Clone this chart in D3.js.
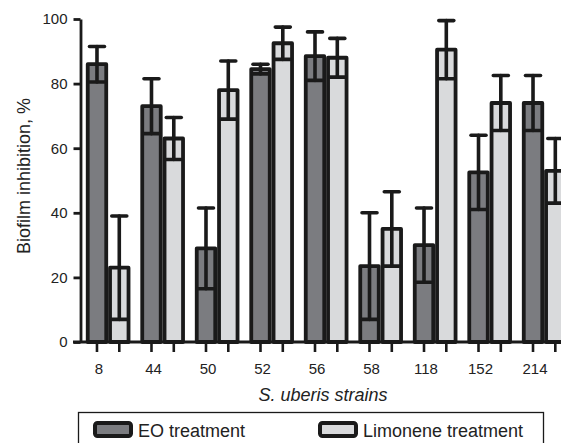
<!DOCTYPE html>
<html>
<head>
<meta charset="utf-8">
<script src="https://cdn.jsdelivr.net/npm/d3@7"></script>
<style>
  html, body { margin: 0; padding: 0; background: #fff; }
  svg { display: block; font-family: "Liberation Sans", Arial, Helvetica, sans-serif; }
</style>
</head>
<body>
<svg id="chart" width="561" height="443"></svg>
<script>
// ---- data ----
const strains = ["8", "44", "50", "52", "56", "58", "118", "152", "214"];
const seriesNames = ["EO treatment", "Limonene treatment"];
const eoValues = [86, 73, 29, 84.5, 88.5, 23.5, 30, 52.5, 74];
const eoErrors = [5.5, 8.5, 12.5, 1.5, 7.5, 16.5, 11.5, 11.5, 8.5];
const limValues = [23, 63, 78, 92.5, 88, 35, 90.5, 74, 53];
const limErrors = [16, 6.5, 9, 5, 6, 11.5, 9, 8.5, 10];
const yTicks = [0, 20, 40, 60, 80, 100];
const seriesColors = ["#7b7c80", "#d9dadc"];

const svg = d3.select("#chart");
const ink = "#1a1a1a";

const x = d3.scaleBand().domain(strains).range([80, 572.3]).paddingInner(0.1817).paddingOuter(0.107);
const xs = d3.scaleBand().domain(seriesNames).range([0, x.bandwidth()]);
const y = d3.scaleLinear().domain([0, 100]).range([342, 19]);

const rows = [];
strains.forEach((s, i) => {
  rows.push({strain: s, series: seriesNames[0], value: eoValues[i], err: eoErrors[i], color: seriesColors[0]});
  rows.push({strain: s, series: seriesNames[1], value: limValues[i], err: limErrors[i], color: seriesColors[1]});
});
const cx = d => x(d.strain) + xs(d.series) + xs.bandwidth() / 2;

const sw = 3.8;
const plot = svg.append("g");

// bars
plot.selectAll("rect.bar").data(rows).join("rect")
  .attr("class", "bar")
  .attr("x", d => x(d.strain) + xs(d.series) + sw / 2)
  .attr("width", xs.bandwidth() - sw)
  .attr("y", d => y(d.value))
  .attr("height", d => y(0) - y(d.value))
  .attr("fill", d => d.color)
  .attr("stroke", ink)
  .attr("stroke-width", sw)
  .attr("stroke-linejoin", "round");

// error bars
const capW = 15;
const eb = plot.selectAll("g.err").data(rows).join("g").attr("class", "err")
  .attr("stroke", ink).attr("stroke-width", 3.6).attr("stroke-linecap", "round");
eb.append("line")
  .attr("x1", cx).attr("x2", cx)
  .attr("y1", d => y(d.value + d.err)).attr("y2", d => y(Math.max(0, d.value - d.err)));
eb.append("line")
  .attr("x1", d => cx(d) - capW / 2).attr("x2", d => cx(d) + capW / 2)
  .attr("y1", d => y(d.value + d.err)).attr("y2", d => y(d.value + d.err));
eb.append("line")
  .attr("x1", d => cx(d) - capW / 2).attr("x2", d => cx(d) + capW / 2)
  .attr("y1", d => y(Math.max(0, d.value - d.err))).attr("y2", d => y(Math.max(0, d.value - d.err)));

// y axis
const yAxis = svg.append("g").attr("transform", "translate(80.5,0)")
  .call(d3.axisLeft(y).tickValues(yTicks).tickSize(7).tickPadding(6).tickSizeOuter(0));
yAxis.select(".domain").attr("stroke", ink).attr("stroke-width", 2.8);
yAxis.selectAll(".tick line").attr("stroke", ink).attr("stroke-width", 2.8);
yAxis.selectAll(".tick text").attr("font-size", 15).attr("fill", "#222")
  .attr("font-family", "'Liberation Sans', Arial, sans-serif");

// x axis baseline
svg.append("line").attr("x1", 73).attr("x2", 561).attr("y1", y(0)).attr("y2", y(0))
  .attr("stroke", ink).attr("stroke-width", 3);

// x ticks at each bar
svg.selectAll("line.xtick").data(rows).join("line").attr("class", "xtick")
  .attr("x1", cx).attr("x2", cx).attr("y1", y(0)).attr("y2", y(0) + 10)
  .attr("stroke", ink).attr("stroke-width", 2.6);

// x labels under EO bars
svg.selectAll("text.xlab").data(strains).join("text").attr("class", "xlab")
  .attr("x", s => x(s) + xs(seriesNames[0]) + xs.bandwidth() / 2 + 2)
  .attr("y", 374)
  .attr("text-anchor", "middle").attr("font-size", 15).attr("fill", "#222")
  .text(s => s);

// axis titles
svg.append("text").attr("x", 323).attr("y", 400.5).attr("text-anchor", "middle")
  .attr("font-size", 18).attr("font-style", "italic").attr("fill", "#222")
  .text("S. uberis strains");
svg.append("text").attr("transform", "translate(29.5,176) rotate(-90)")
  .attr("text-anchor", "middle").attr("font-size", 18).attr("fill", "#222")
  .text("Biofilm inhibition, %");

// legend
const lg = svg.append("g");
lg.append("rect").attr("x", 78.5).attr("y", 412.5).attr("width", 465).attr("height", 40)
  .attr("fill", "none").attr("stroke", ink).attr("stroke-width", 1.3);
const legendX = [93, 318];
const items = lg.selectAll("g.item").data(seriesNames).join("g").attr("class", "item")
  .attr("transform", (d, i) => `translate(${legendX[i]},0)`);
items.append("rect").attr("x", 2).attr("y", 423).attr("width", 36).attr("height", 13)
  .attr("rx", 2.5).attr("fill", (d, i) => seriesColors[i]).attr("stroke", ink).attr("stroke-width", 4);
items.append("text").attr("x", 45).attr("y", 436.7).attr("font-size", 18).attr("fill", "#222")
  .text(d => d);
</script>
</body>
</html>
